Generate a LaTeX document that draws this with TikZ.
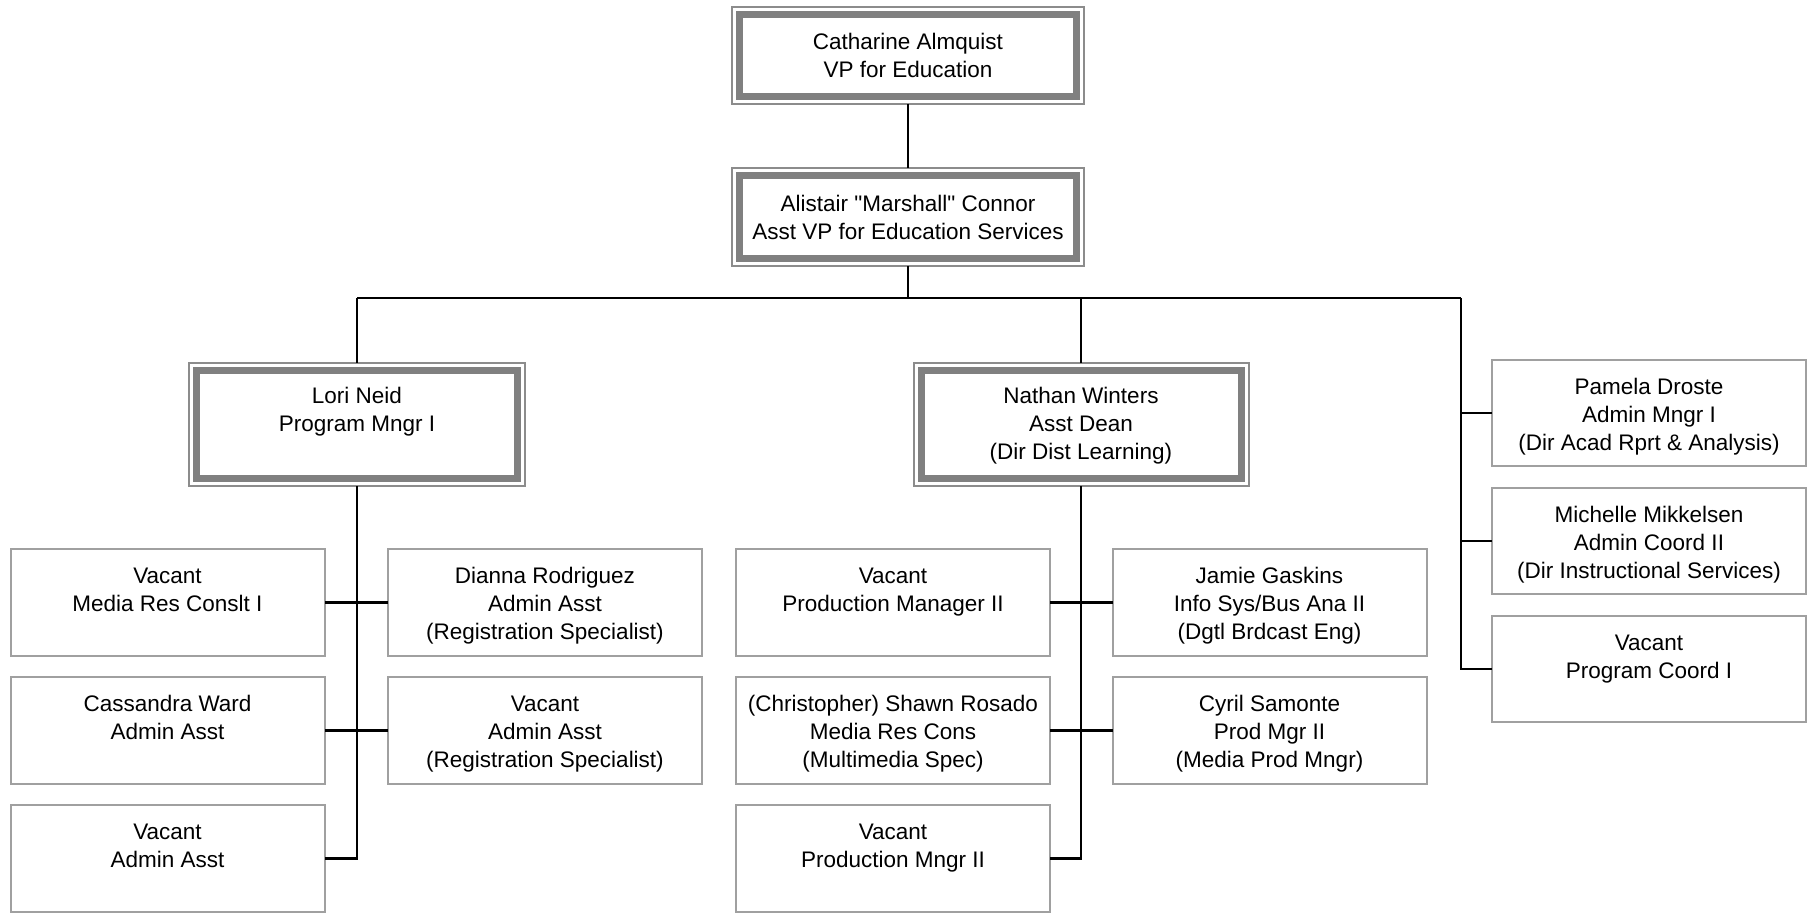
\documentclass[tikz,border=0pt]{standalone}
\usepackage{fontspec}
\newfontfamily\orgfam{Liberation Sans}
\setmainfont{Liberation Sans}
\usetikzlibrary{fit}
\definecolor{bandgray}{HTML}{808080}
\definecolor{framegray}{HTML}{8C8C8C}
\definecolor{boxgray}{HTML}{A0A0A0}
\newcommand{\orgfont}{\orgfam\fontsize{11.25}{14}\selectfont}
\newcommand{\blankline}{\rule[-2.4pt]{0pt}{0pt}}
\newcommand{\fl}{\rule{0pt}{11.5pt}}
\newcommand{\fb}{\rule{0pt}{9.4pt}}
\tikzset{
  bandbox/.style={draw=bandgray, line width=3.5pt, fill=white, outer sep=0pt, inner sep=0pt, align=center, font=\orgfont},
  frameline/.style={draw=framegray, line width=1pt, inner sep=3.75pt, outer sep=0pt},
  plainbox/.style={draw=boxgray, line width=1pt, fill=white, minimum width=157pt, minimum height=53.5pt, inner sep=0pt, outer sep=0pt, align=center, font=\orgfont},
  conn/.style={draw=black, line width=1.4pt}
}
\begin{document}
\begin{tikzpicture}[x=0.5pt, y=-0.5pt]
\useasboundingbox (0,0) rectangle (1812,912);
% double boxes
\node[bandbox, minimum width=168.5pt, minimum height=41pt] (vp) at (908,55.5) {Catharine Almquist\\VP for Education};
\node[frameline, fit=(vp)] (vpF) {};
\node[bandbox, minimum width=168.5pt, minimum height=41.5pt] (avp) at (908,217) {Alistair "Marshall" Connor\\Asst VP for Education Services};
\node[frameline, fit=(avp)] (avpF) {};
\node[bandbox, minimum width=160.5pt, minimum height=54pt] (lori) at (357,424.5) {\fb Lori Neid\\Program Mngr I\\\blankline};
\node[frameline, fit=(lori)] (loriF) {};
\node[bandbox, minimum width=160pt, minimum height=54pt] (nathan) at (1081,424.5) {\fb Nathan Winters\\Asst Dean\\(Dir Dist Learning)};
\node[frameline, fit=(nathan)] (nathanF) {};
% plain boxes
\node[plainbox] (l1) at (167.5,602.5) {\fl Vacant\\Media Res Conslt I\\\blankline};
\node[plainbox] (l2) at (167.5,730.5) {\fl Cassandra Ward\\Admin Asst\\\blankline};
\node[plainbox] (l3) at (167.5,858.5) {\fl Vacant\\Admin Asst\\\blankline};
\node[plainbox] (r1) at (545,602.5) {\fl Dianna Rodriguez\\Admin Asst\\(Registration Specialist)};
\node[plainbox] (r2) at (545,730.5) {\fl Vacant\\Admin Asst\\(Registration Specialist)};
\node[plainbox] (n1) at (893,602.5) {\fl Vacant\\Production Manager II\\\blankline};
\node[plainbox] (n2) at (893,730.5) {\fl (Christopher) Shawn Rosado\\Media Res Cons\\(Multimedia Spec)};
\node[plainbox] (n3) at (893,858.5) {\fl Vacant\\Production Mngr II\\\blankline};
\node[plainbox] (m1) at (1269.5,602.5) {\fl Jamie Gaskins\\Info Sys/Bus Ana II\\(Dgtl Brdcast Eng)};
\node[plainbox] (m2) at (1269.5,730.5) {\fl Cyril Samonte\\Prod Mgr II\\(Media Prod Mngr)};
\node[plainbox, minimum height=53pt] (p1) at (1649,413) {\fl Pamela Droste\\Admin Mngr I\\(Dir Acad Rprt \& Analysis)};
\node[plainbox, minimum height=53pt] (p2) at (1649,541) {\fl Michelle Mikkelsen\\Admin Coord II\\(Dir Instructional Services)};
\node[plainbox, minimum height=53pt] (p3) at (1649,669) {\fl Vacant\\Program Coord I\\\blankline};
% bus coordinates
\coordinate (busC) at (908,298);
\coordinate (busL) at (357,298);
\coordinate (busM) at (1081,298);
\coordinate (busR) at (1461,298);
% connectors
\draw[conn] (vpF.south) -- (avpF.north);
\draw[conn] (avpF.south) -- (busC);
\draw[conn] (busL) -- (busR);
\draw[conn] (busL) -- (loriF.north);
\draw[conn] (busM) -- (nathanF.north);
\draw[conn] (busR) |- (p1.west);
\draw[conn] (busR) |- (p2.west);
\draw[conn] (busR) |- (p3.west);
\draw[conn] (loriF.south) |- (l1.east);
\draw[conn] (loriF.south) |- (r1.west);
\draw[conn] (loriF.south) |- (l2.east);
\draw[conn] (loriF.south) |- (r2.west);
\draw[conn] (loriF.south) |- (l3.east);
\draw[conn] (nathanF.south) |- (n1.east);
\draw[conn] (nathanF.south) |- (m1.west);
\draw[conn] (nathanF.south) |- (n2.east);
\draw[conn] (nathanF.south) |- (m2.west);
\draw[conn] (nathanF.south) |- (n3.east);
\end{tikzpicture}
\end{document}
